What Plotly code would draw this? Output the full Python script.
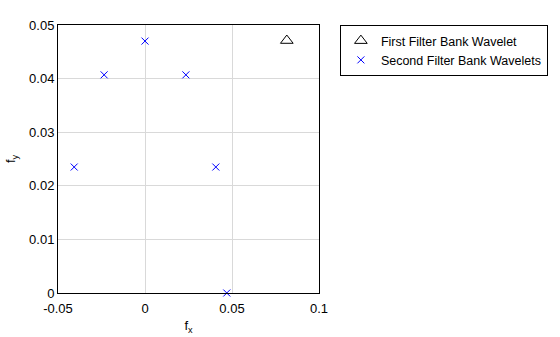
import plotly.graph_objects as go

first_x = [0.0815]
first_y = [0.0471]
second_x = [0.0, -0.0235, 0.0235, -0.0407, 0.0407, 0.047]
second_y = [0.047, 0.0407, 0.0407, 0.0235, 0.0235, 0.0]

x_ticks = [-0.05, 0, 0.05, 0.1]
x_labels = ["-0.05", "0", "0.05", "0.1"]
y_ticks = [0, 0.01, 0.02, 0.03, 0.04, 0.05]
y_labels = ["0", "0.01", "0.02", "0.03", "0.04", "0.05"]

fig = go.Figure()
fig.add_trace(go.Scatter(
    x=first_x, y=first_y, mode="markers", name="First Filter Bank Wavelet",
    marker=dict(symbol="triangle-up-open", size=11, color="black", line=dict(width=1)),
    cliponaxis=False,
))
fig.add_trace(go.Scatter(
    x=second_x, y=second_y, mode="markers", name="Second Filter Bank Wavelets",
    marker=dict(symbol="x-thin-open", size=7, color="blue", line=dict(width=1, color="blue")),
    cliponaxis=False,
))

axis_common = dict(
    showline=True, linecolor="black", linewidth=1, mirror=True,
    showgrid=True, gridcolor="#d9d9d9", gridwidth=1,
    zeroline=False, ticks="", tickfont=dict(size=13, color="black"),
    automargin=False,
)
fig.update_xaxes(range=[-0.05, 0.1], tickvals=x_ticks, ticktext=x_labels,
                 ticklabelstandoff=3,
                 title=dict(text="f<sub>x</sub>", font=dict(size=13, color="black"), standoff=6),
                 **axis_common)
fig.update_yaxes(range=[0, 0.05], tickvals=y_ticks, ticktext=y_labels,
                 title=dict(text="f<sub>y</sub>", font=dict(size=13, color="black"), standoff=10),
                 **axis_common)

fig.update_layout(
    width=560, height=337,
    margin=dict(l=58, r=236, t=25, b=44),
    paper_bgcolor="white", plot_bgcolor="white",
    font=dict(family="Liberation Sans, Arial, sans-serif", color="black"),
    legend=dict(x=1.08, y=1.0, xanchor="left", yanchor="top",
                bordercolor="black", borderwidth=1, bgcolor="white",
                font=dict(size=12.5), itemwidth=30, tracegroupgap=0),
    showlegend=True,
)

fig.write_html("out.html")
